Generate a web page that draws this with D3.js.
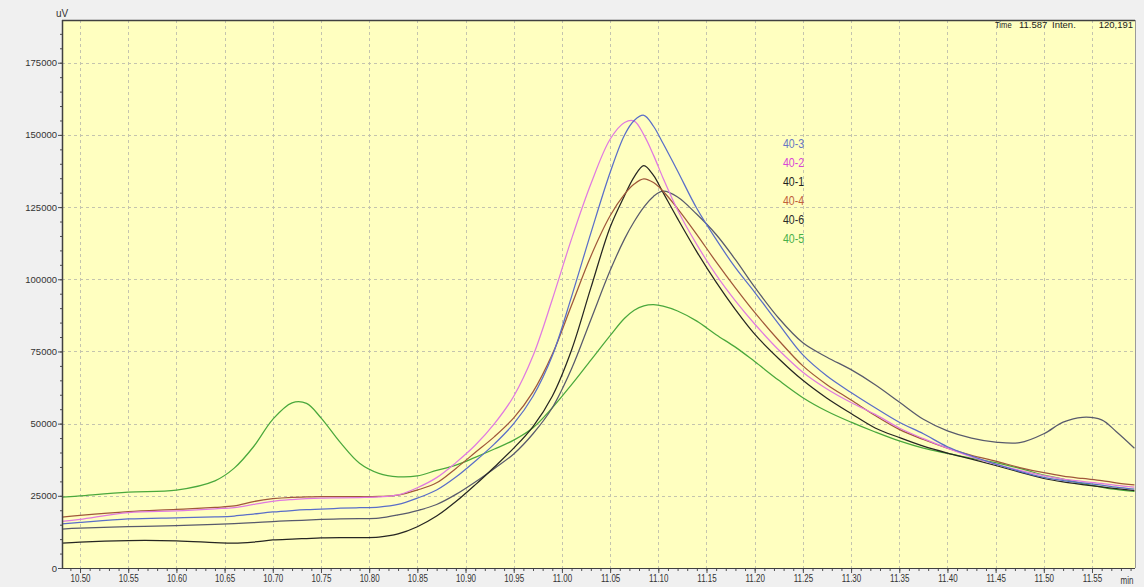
<!DOCTYPE html>
<html>
<head>
<meta charset="utf-8">
<script src="https://cdn.jsdelivr.net/npm/d3@7"></script>
<style>
  html, body { margin: 0; padding: 0; background: #f0f0f0; }
  svg { display: block; }
  text { font-family: "Liberation Sans", Arial, sans-serif; }
</style>
</head>
<body>
<svg id="chart" width="1144" height="587"></svg>
<script>
// Retention time (min) shared by all traces
const times = [10.481, 10.50, 10.55, 10.60, 10.64, 10.66, 10.68, 10.70, 10.72, 10.735,
  10.75, 10.77, 10.79, 10.81, 10.83, 10.85, 10.87, 10.89, 10.91, 10.93,
  10.95, 10.97, 10.99, 11.01, 11.03, 11.05, 11.065, 11.075, 11.085, 11.095,
  11.105, 11.12, 11.14, 11.16, 11.18, 11.20, 11.225, 11.25, 11.275, 11.30,
  11.325, 11.35, 11.375, 11.40, 11.425, 11.45, 11.475, 11.50, 11.52, 11.54,
  11.56, 11.575, 11.594];

// Detector signal (uV) per sample
const trace40_3 = [15300, 15800, 17000, 17400, 17700, 18000, 18700, 19400, 19900, 20200,
  20400, 20700, 20900, 21100, 22000, 24200, 27000, 31500, 37000, 43000,
  50000, 59500, 73500, 94000, 116000, 137000, 150000, 155000, 156800, 153000,
  147000, 137500, 124500, 113800, 104000, 95500, 84500, 73800, 66500, 60800,
  55500, 50500, 46500, 42000, 38800, 36000, 33500, 31400, 30300, 29500,
  28700, 28000, 27300];

const trace40_2 = [16100, 16800, 19200, 19800, 20500, 20900, 22000, 23100, 23700, 24000,
  24200, 24300, 24400, 24600, 25300, 27800, 31300, 36500, 42500, 50000,
  59500, 73500, 93000, 114000, 133000, 148500, 154300, 154800, 150000, 143000,
  135000, 124000, 112000, 101500, 92500, 84500, 75500, 67800, 62000, 57300,
  53200, 48500, 44800, 41500, 38500, 36000, 33800, 32000, 30800, 30000,
  29300, 28600, 28000];

const trace40_1 = [8600, 9000, 9500, 9400, 8800, 8600, 9000, 9700, 10000, 10200,
  10400, 10500, 10500, 10700, 11800, 14300, 18000, 23000, 28800, 35000,
  41500, 49000, 59500, 75500, 97000, 118000, 129000, 135500, 139400, 136000,
  130000, 121000, 109500, 99000, 89500, 81000, 72500, 65000, 58800, 53500,
  48500, 45200, 42200, 39800, 37700, 35500, 33200, 31000, 29800, 28900,
  28100, 27500, 26800];

const trace40_4 = [17600, 18200, 19500, 20300, 21000, 21500, 23000, 24000, 24500, 24600,
  24700, 24700, 24700, 24800, 25200, 27000, 29500, 34500, 40000, 45500,
  52000, 61000, 74000, 91000, 108000, 122000, 129500, 133000, 134800, 133500,
  130500, 124500, 115500, 106000, 97000, 88500, 78800, 70000, 63500, 58200,
  52800, 48000, 44500, 41500, 39000, 37000, 34800, 33000, 31800, 31000,
  30300, 29500, 28800];

const trace40_6 = [13500, 13800, 14300, 14700, 15100, 15400, 15700, 16100, 16400, 16600,
  16800, 17000, 17100, 17300, 18400, 19900, 22000, 25500, 29800, 34500,
  39500, 46500, 55500, 69000, 86000, 103000, 114000, 120000, 125000, 128700,
  130500, 128500, 122500, 115500, 106800, 97300, 86500, 78000, 73000, 68700,
  63500, 57500, 51500, 47500, 45000, 43600, 43400, 46500, 50500, 52200,
  51300, 47300, 41500];

const trace40_5 = [24500, 25000, 26300, 27000, 30200, 34600, 42000, 51500, 57200, 57000,
  52000, 43500, 36300, 32800, 31600, 31900, 33800, 35600, 38300, 41200,
  44300, 48600, 55500, 63500, 72000, 80500, 86500, 89300, 90800, 91200,
  90700, 89000, 85500, 80800, 76500, 71500, 65000, 59000, 54300, 50500,
  47100, 44000, 41500, 39700, 38000, 36500, 34500, 32200, 30800, 29200,
  28000, 27200, 26500];

const traceNames = ["40-3", "40-2", "40-1", "40-4", "40-6", "40-5"];
const traceValues = [trace40_3, trace40_2, trace40_1, trace40_4, trace40_6, trace40_5];
const lineColors = ["#5a6ec8", "#e07ae0", "#262622", "#a0583a", "#585a6c", "#4aa83c"];
const labelColors = ["#6676c4", "#d844d8", "#1e1e1e", "#c0603a", "#2a2a2a", "#48b048"];

// Axis ticks
const xTickValues = [10.50, 10.55, 10.60, 10.65, 10.70, 10.75, 10.80, 10.85, 10.90, 10.95,
  11.00, 11.05, 11.10, 11.15, 11.20, 11.25, 11.30, 11.35, 11.40, 11.45, 11.50, 11.55];
const yTickValues = [0, 25000, 50000, 75000, 100000, 125000, 150000, 175000];
const cursorTime = "11.587";
const cursorInten = "120,191";

const svg = d3.select("#chart");
const L = 62, T = 20, R = 1135, B = 568;

const x = d3.scaleLinear().domain([10.4813, 11.5946]).range([L, R]);
const y = d3.scaleLinear().domain([0, 189800]).range([B, T]);

// squeeze glyphs horizontally for the narrow instrument font
function squeeze(sel, f) {
  sel.each(function () {
    const w = this.getComputedTextLength();
    this.setAttribute("textLength", w * f);
    this.setAttribute("lengthAdjust", "spacingAndGlyphs");
  });
}

// plot background
svg.append("rect").attr("x", L).attr("y", T).attr("width", R - L).attr("height", B - T)
  .attr("fill", "#ffffc0");

// grid
const grid = svg.append("g").attr("stroke", "#c4c4ae").attr("stroke-width", 1)
  .attr("stroke-dasharray", "3,3");
grid.selectAll("line.v").data(xTickValues).join("line").attr("class", "v")
  .attr("x1", d => Math.round(x(d)) + 0.5).attr("x2", d => Math.round(x(d)) + 0.5)
  .attr("y1", T).attr("y2", B);
grid.selectAll("line.h").data(yTickValues.filter(d => d > 0)).join("line").attr("class", "h")
  .attr("y1", d => Math.round(y(d)) + 0.5).attr("y2", d => Math.round(y(d)) + 0.5)
  .attr("x1", L).attr("x2", R);

// traces
svg.append("clipPath").attr("id", "plotClip").append("rect")
  .attr("x", L).attr("y", T).attr("width", R - L).attr("height", B - T);

const line = d3.line().x(d => x(d[0])).y(d => y(d[1])).curve(d3.curveCatmullRom.alpha(0.5));
const drawOrder = [5, 4, 2, 3, 1, 0];
svg.append("g").attr("clip-path", "url(#plotClip)")
  .selectAll("path").data(drawOrder).join("path")
  .attr("fill", "none")
  .attr("stroke", i => lineColors[i])
  .attr("stroke-width", 1.25)
  .attr("stroke-linejoin", "round")
  .attr("d", i => line(times.map((t, k) => [t, traceValues[i][k]])));

// y axis
const yMinor = d3.range(0, 189800, 5000);
const gyMinor = svg.append("g").attr("transform", `translate(${L},0)`)
  .call(d3.axisLeft(y).tickValues(yMinor).tickSize(2).tickFormat(""));
gyMinor.select(".domain").remove();
gyMinor.selectAll("line").attr("stroke", "#505050");

const gy = svg.append("g").attr("transform", `translate(${L},0)`)
  .call(d3.axisLeft(y).tickValues(yTickValues).tickSize(4).tickPadding(1).tickFormat(d3.format("d")));
gy.select(".domain").remove();
gy.selectAll("line").attr("stroke", "#505050");
gy.selectAll("text").attr("font-size", 9.5).attr("fill", "#333")
  .attr("font-family", "'Liberation Sans', Arial, sans-serif");

// x axis
const xMinor = d3.range(10.49, 11.595, 0.01);
const gxMinor = svg.append("g").attr("transform", `translate(0,${B})`)
  .call(d3.axisBottom(x).tickValues(xMinor).tickSize(3).tickFormat(""));
gxMinor.select(".domain").remove();
gxMinor.selectAll("line").attr("stroke", "#505050");

const gx = svg.append("g").attr("transform", `translate(0,${B})`)
  .call(d3.axisBottom(x).tickValues(xTickValues).tickSize(5).tickPadding(2).tickFormat(d3.format(".2f")));
gx.select(".domain").remove();
gx.selectAll("line").attr("stroke", "#505050");
gx.selectAll("text").attr("font-size", 10).attr("fill", "#333")
  .attr("font-family", "'Liberation Sans', Arial, sans-serif");
squeeze(gx.selectAll("text"), 0.8);

// frame
svg.append("line").attr("x1", L + 0.5).attr("x2", L + 0.5).attr("y1", T).attr("y2", B)
  .attr("stroke", "#404040").attr("stroke-width", 1.5);
svg.append("line").attr("x1", L).attr("x2", R).attr("y1", T + 0.5).attr("y2", T + 0.5)
  .attr("stroke", "#404040").attr("stroke-width", 1.5);
svg.append("line").attr("x1", L).attr("x2", R).attr("y1", B + 0.5).attr("y2", B + 0.5)
  .attr("stroke", "#404040").attr("stroke-width", 1.2);
svg.append("line").attr("x1", R + 0.5).attr("x2", R + 0.5).attr("y1", T).attr("y2", B)
  .attr("stroke", "#9a9a9a").attr("stroke-width", 1);

// axis units
svg.append("text").attr("x", 56).attr("y", 17).attr("font-size", 10).attr("fill", "#333")
  .text("uV");
const minLabel = svg.append("text").attr("x", 1127).attr("y", 583.5).attr("font-size", 10)
  .attr("fill", "#333").attr("text-anchor", "middle").text("min");
squeeze(minLabel, 0.8);

// cursor readout
const info = svg.append("g").attr("font-size", 9.5).attr("fill", "#222");
const timeLabel = info.append("text").attr("x", 995).attr("y", 28).text("Time");
squeeze(timeLabel, 0.8);
info.append("text").attr("x", 1019).attr("y", 28).text(cursorTime);
info.append("text").attr("x", 1052).attr("y", 28).text("Inten.");
info.append("text").attr("x", 1133).attr("y", 28).attr("text-anchor", "end").text(cursorInten);

// legend
svg.append("g").selectAll("text").data(traceNames).join("text")
  .attr("x", 783)
  .attr("y", (d, i) => 144 + i * 18.9)
  .attr("dy", "0.35em")
  .attr("font-size", 12)
  .attr("fill", (d, i) => labelColors[i])
  .text(d => d)
  .call(s => squeeze(s, 0.88));
</script>
</body>
</html>
